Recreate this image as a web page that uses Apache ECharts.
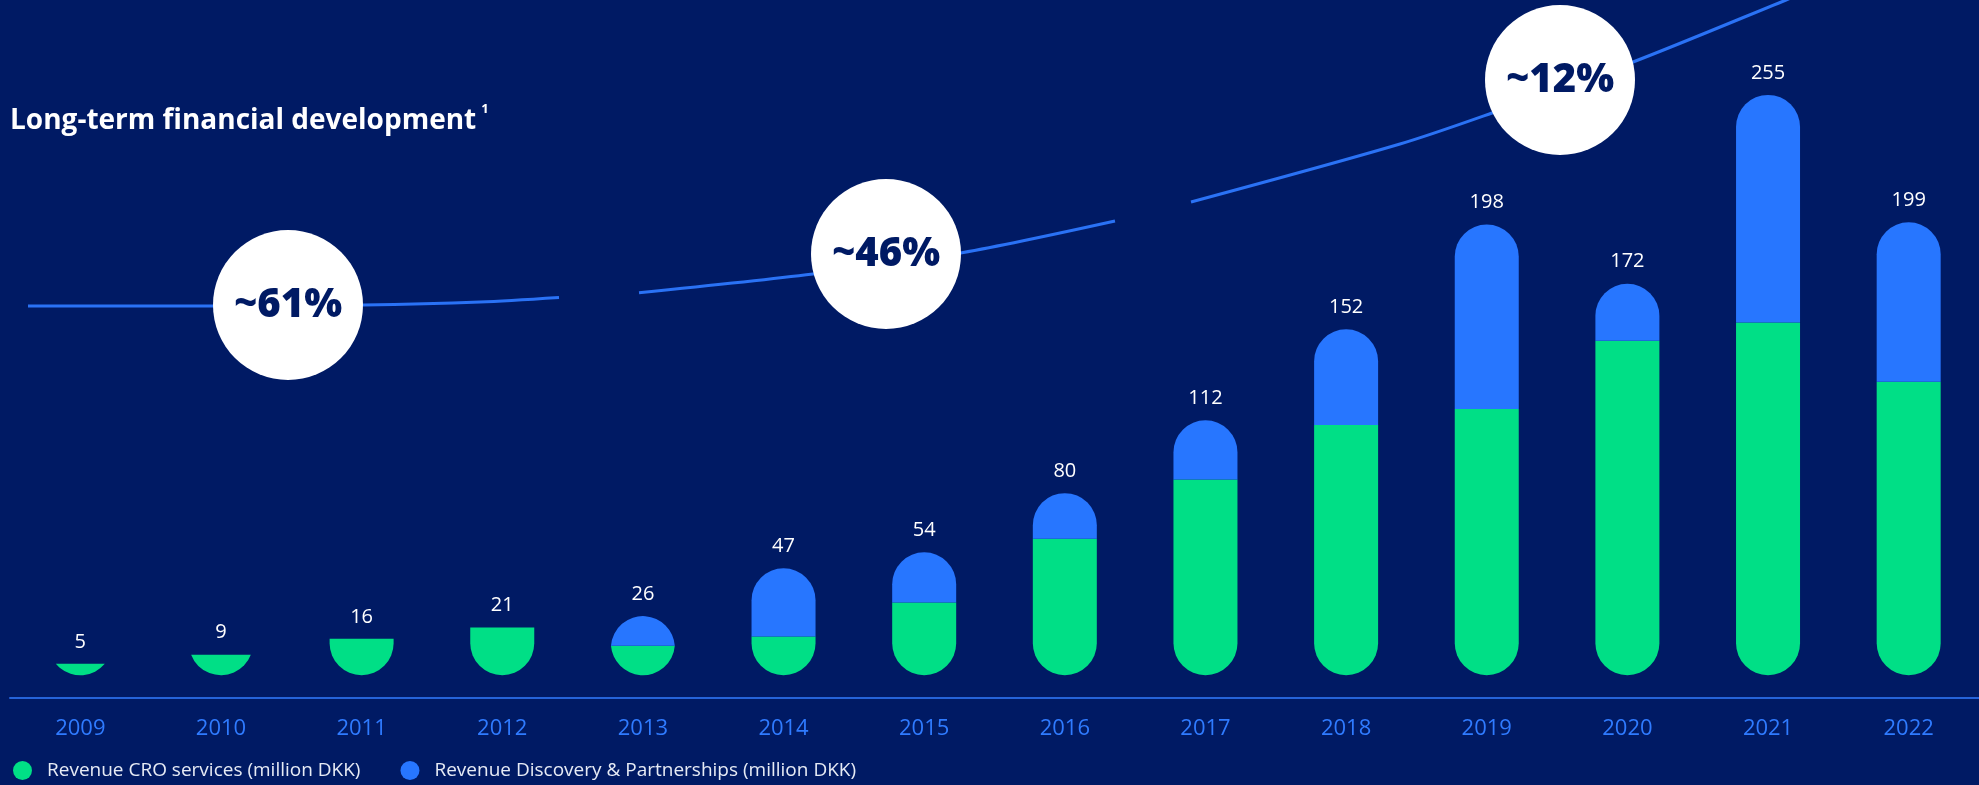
<!DOCTYPE html>
<html>
<head>
<meta charset="utf-8">
<script src="https://cdn.jsdelivr.net/npm/echarts@6/dist/echarts.min.js"></script>
<style>
  html, body { margin: 0; padding: 0; background: #001a64; }
  #chart { width: 1979px; height: 785px; }
</style>
</head>
<body>
<div id="chart"></div>
<script>
// ---- Data ----
const years = ['2009', '2010', '2011', '2012', '2013', '2014', '2015', '2016', '2017', '2018', '2019', '2020', '2021', '2022'];
const croRevenue = [5, 9, 16, 21, 13, 17, 32, 60, 86, 110, 117, 147, 155, 129];
const discoveryRevenue = [0, 0, 0, 0, 13, 30, 22, 20, 26, 42, 81, 25, 100, 70];
const totalLabels = [5, 9, 16, 21, 26, 47, 54, 80, 112, 152, 198, 172, 255, 199];
const cagrLabels = ['~61%', '~46%', '~12%'];
const seriesNames = ['Revenue CRO services (million DKK)', 'Revenue Discovery & Partnerships (million DKK)'];
const chartTitle = 'Long-term financial development';
const titleNote = '1';

// ---- Style ----
const BG = '#001a64';
const GREEN = '#00df86';
const BLUE = '#2776ff';
const LINE = '#2a72f5';
const BAR_W = 64;
const FONT = '"Open Sans", Lato, sans-serif';

const chart = echarts.init(document.getElementById('chart'));

function greenItem(params, api) {
  const i = api.value(0);
  const v = api.value(1);
  const base = api.coord([i, 0]);
  const top = api.coord([i, v]);
  const r = BAR_W / 2;
  const cx = base[0], yB = base[1], yT = top[1];
  const h = yB - yT;
  let path;
  if (h >= r) {
    path = 'M' + (cx - r) + ',' + yT + ' L' + (cx + r) + ',' + yT + ' L' + (cx + r) + ',' + (yB - r) +
      ' A' + r + ',' + r + ' 0 0 1 ' + (cx - r) + ',' + (yB - r) + ' Z';
  } else {
    const hc = Math.sqrt(r * r - (r - h) * (r - h));
    path = 'M' + (cx - hc) + ',' + yT + ' L' + (cx + hc) + ',' + yT +
      ' A' + r + ',' + r + ' 0 0 1 ' + (cx - hc) + ',' + yT + ' Z';
  }
  return { type: 'path', shape: { pathData: path }, style: { fill: GREEN } };
}

function blueItem(params, api) {
  const i = api.value(0);
  const lo = api.value(1);
  const hi = api.value(2);
  const lbl = api.value(3);
  const pLo = api.coord([i, lo]);
  const pHi = api.coord([i, hi]);
  const r = BAR_W / 2;
  const cx = pLo[0], yG = pLo[1], yT = pHi[1];
  const hb = yG - yT;
  const children = [];
  if (hb > 0.5) {
    let path;
    if (hb >= r) {
      path = 'M' + (cx - r) + ',' + yG + ' L' + (cx - r) + ',' + (yT + r) +
        ' A' + r + ',' + r + ' 0 0 1 ' + (cx + r) + ',' + (yT + r) + ' L' + (cx + r) + ',' + yG + ' Z';
    } else {
      const hc = Math.sqrt(r * r - (r - hb) * (r - hb));
      path = 'M' + (cx - hc) + ',' + yG + ' A' + r + ',' + r + ' 0 0 1 ' + (cx + hc) + ',' + yG + ' Z';
    }
    children.push({ type: 'path', shape: { pathData: path }, style: { fill: BLUE } });
  }
  children.push({
    type: 'text',
    style: {
      text: String(lbl), x: cx, y: yT - 22, align: 'center', verticalAlign: 'middle',
      fill: '#ffffff', fontSize: 20, fontFamily: FONT
    }
  });
  return { type: 'group', children: children };
}

const greenData = years.map((y, i) => [i, croRevenue[i]]);
const blueData = years.map((y, i) => [i, croRevenue[i], croRevenue[i] + discoveryRevenue[i], totalLabels[i]]);

const circleCenters = [[288, 305], [886, 254], [1560, 80]];

const graphics = [
  { type: 'polyline', z: 1, shape: { points: [[28, 306], [213, 306], [363, 305], [480, 302], [559, 297.5]], smooth: 0.3 },
    style: { stroke: LINE, lineWidth: 3, fill: null } },
  { type: 'polyline', z: 1, shape: { points: [[639, 292.7], [813, 274], [962, 252.7], [1115, 221]], smooth: 0.3 },
    style: { stroke: LINE, lineWidth: 3, fill: null } },
  { type: 'polyline', z: 1, shape: { points: [[1191, 202], [1400, 144], [1492, 113], [1633, 62], [1786, 0], [1810, -10]], smooth: 0.3 },
    style: { stroke: LINE, lineWidth: 3, fill: null } }
];
cagrLabels.forEach((t, k) => {
  graphics.push({ type: 'circle', z: 2, shape: { cx: circleCenters[k][0], cy: circleCenters[k][1], r: 75 }, style: { fill: '#ffffff' } });
  graphics.push({ type: 'text', z: 3, x: circleCenters[k][0], y: circleCenters[k][1] + 1,
    style: { text: t, align: 'center', verticalAlign: 'middle', fill: BG, fontSize: 40, fontWeight: 800, fontFamily: FONT } });
});

chart.setOption({
  backgroundColor: BG,
  animation: false,
  title: {
    text: '{m|' + chartTitle + '} {s|' + titleNote + '}', left: 10, top: 103, padding: 0,
    textStyle: {
      rich: {
        m: { color: '#ffffff', fontSize: 28, fontWeight: 'bold', fontFamily: FONT, lineHeight: 36 },
        s: { color: '#ffffff', fontSize: 13, fontWeight: 'bold', fontFamily: FONT, verticalAlign: 'top', lineHeight: 36, padding: [0, 0, 12, 0] }
      }
    }
  },
  legend: {
    left: 13, top: 761, padding: 0, itemWidth: 19, itemHeight: 20, itemGap: 40, icon: 'circle',
    textStyle: { color: '#e6ebf5', fontSize: 19, fontFamily: FONT, padding: [0, 0, 0, 10] },
    data: seriesNames
  },
  grid: { left: 10, width: 1971, top: 38, bottom: 87, containLabel: false },
  xAxis: {
    type: 'category', data: years, boundaryGap: true,
    axisLine: { onZero: false, lineStyle: { color: '#2563d9', width: 2 } },
    axisTick: { show: false },
    axisLabel: { color: '#2f7bff', fontSize: 22, margin: 20, fontFamily: FONT }
  },
  yAxis: { type: 'value', min: -10, max: 280, show: false, splitLine: { show: false } },
  graphic: graphics,
  series: [
    { name: seriesNames[0], type: 'custom', renderItem: greenItem, data: greenData,
      encode: { x: 0, y: 1 }, itemStyle: { color: GREEN }, z: 3 },
    { name: seriesNames[1], type: 'custom', renderItem: blueItem, data: blueData,
      encode: { x: 0, y: [1, 2] }, itemStyle: { color: BLUE }, z: 3 }
  ]
});
</script>
</body>
</html>
